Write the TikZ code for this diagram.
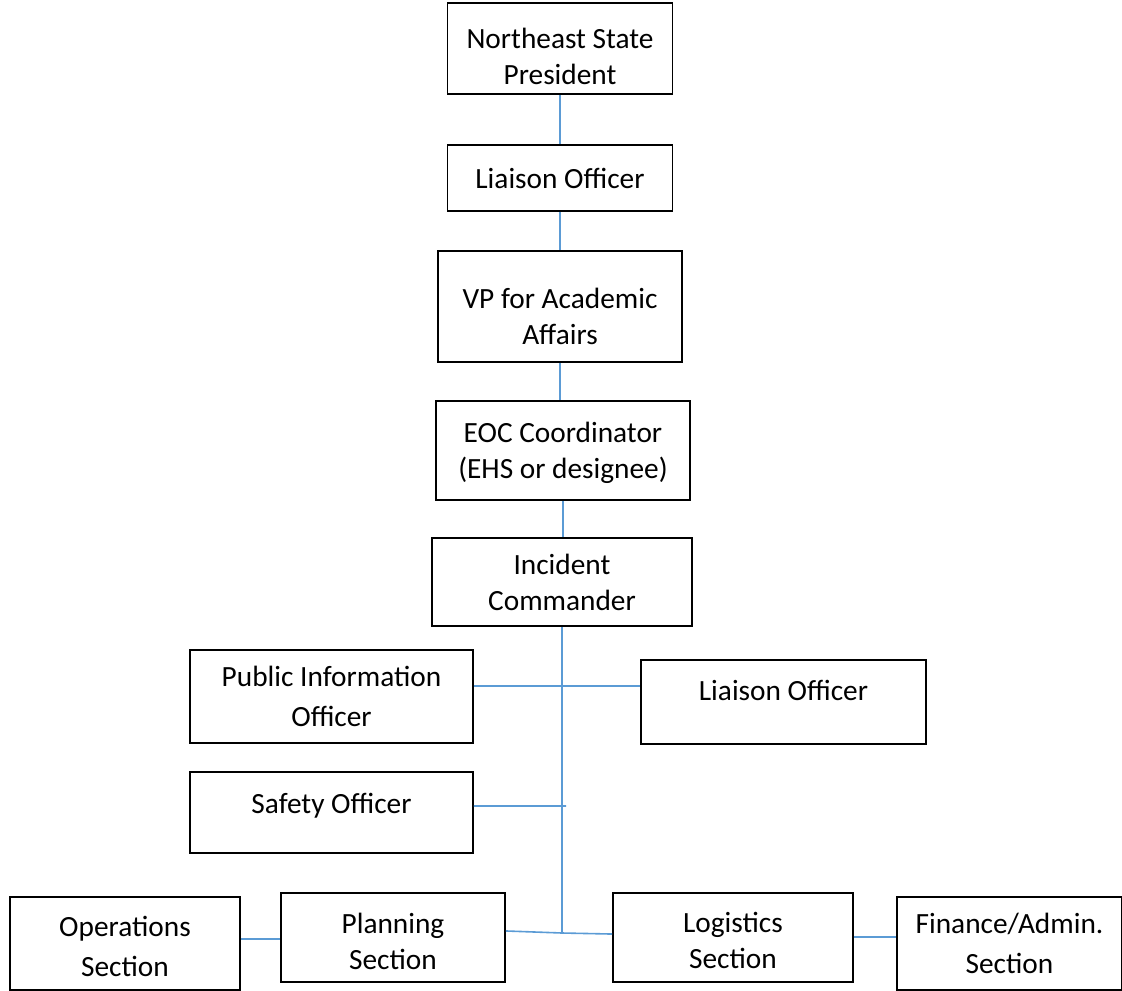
\documentclass[tikz,border=0pt]{standalone}
\usepackage{fontspec}
\setmainfont{Carlito}
% strut that lowers a two-line label inside its box
\newcommand{\padtop}[1]{\rule{0pt}{#1}}
\tikzset{
  orgbox/.style={draw=black,line width=1.3pt,align=center,inner sep=2pt,
    font=\fontsize{22}{27}\selectfont},
  widebox/.style={orgbox,font=\fontsize{22}{30}\selectfont},
  link/.style={draw={rgb,255:red,91;green,155;blue,213},line width=1.2pt}
}
\begin{document}
\begin{tikzpicture}[x=0.75pt,y=-0.75pt]
  \useasboundingbox (0,0) rectangle (1122,990);

  % Top chain
  \node[orgbox,minimum width=168.75pt,minimum height=68.25pt] (pres) at (560,48.5) {\padtop{26.5pt}Northeast State\\President};
  \node[orgbox,minimum width=168.75pt,minimum height=49.5pt] (liaisonA) at (560,178) {Liaison Officer};
  \node[orgbox,minimum width=183pt,minimum height=83.25pt] (vp) at (560,306.5) {\padtop{29.5pt}VP for Academic\\Affairs};
  \node[orgbox,minimum width=190.5pt,minimum height=74.25pt] (eoc) at (563,450.5) {\padtop{19pt}EOC Coordinator\\(EHS or designee)};
  \node[orgbox,minimum width=195pt,minimum height=66pt] (ic) at (562,582) {Incident\\Commander};

  % Command staff
  \node[widebox,minimum width=212.25pt,minimum height=69.75pt] (pio) at (331.5,696.5) {Public Information\\Officer};
  \node[orgbox,minimum width=213.75pt,minimum height=63pt,text depth=17pt] (liaisonB) at (783.5,702) {Liaison Officer};
  \node[orgbox,minimum width=212.25pt,minimum height=60.75pt,text depth=14pt] (safety) at (331.5,812.5) {Safety Officer};

  % Sections
  \node[widebox,minimum width=172.5pt,minimum height=69.75pt] (ops) at (125,943.5) {\padtop{20pt}Operations\\Section};
  \node[orgbox,minimum width=168pt,minimum height=66.75pt] (plan) at (393,937.5) {\padtop{21.5pt}Planning\\Section};
  \node[orgbox,minimum width=180pt,minimum height=66.75pt] (log) at (733,937.5) {\padtop{19.5pt}Logistics\\Section};
  \node[widebox,minimum width=168.75pt,minimum height=69.75pt] (fin) at (1009.5,943.5) {Finance/Admin.\\Section};

  \coordinate (hub) at (562,933);
  \coordinate (safetyend) at (566,806);

  % Connectors
  \draw[link] (pres.south) -- (liaisonA.north);
  \draw[link] (liaisonA.south) -- (liaisonA.south |- vp.north);
  \draw[link] (vp.south) -- (vp.south |- eoc.north);
  \draw[link] (eoc.south) -- (eoc.south |- ic.north);
  \draw[link] (ic.south) -- (hub);
  \draw[link] ([yshift=7.9pt]pio.east) -- ([yshift=7.9pt]pio.east -| liaisonB.west);
  \draw[link] ([yshift=4.9pt]safety.east) -- (safetyend);
  \draw[link] ([yshift=4.9pt]plan.east) -- (hub) -- ([yshift=2.6pt]log.west);
  \draw[link] ([yshift=3.4pt]ops.east) -- ([yshift=3.4pt]ops.east -| plan.west);
  \draw[link] ([yshift=0.4pt]log.east) -- ([yshift=0.4pt]log.east -| fin.west);
\end{tikzpicture}
\end{document}
